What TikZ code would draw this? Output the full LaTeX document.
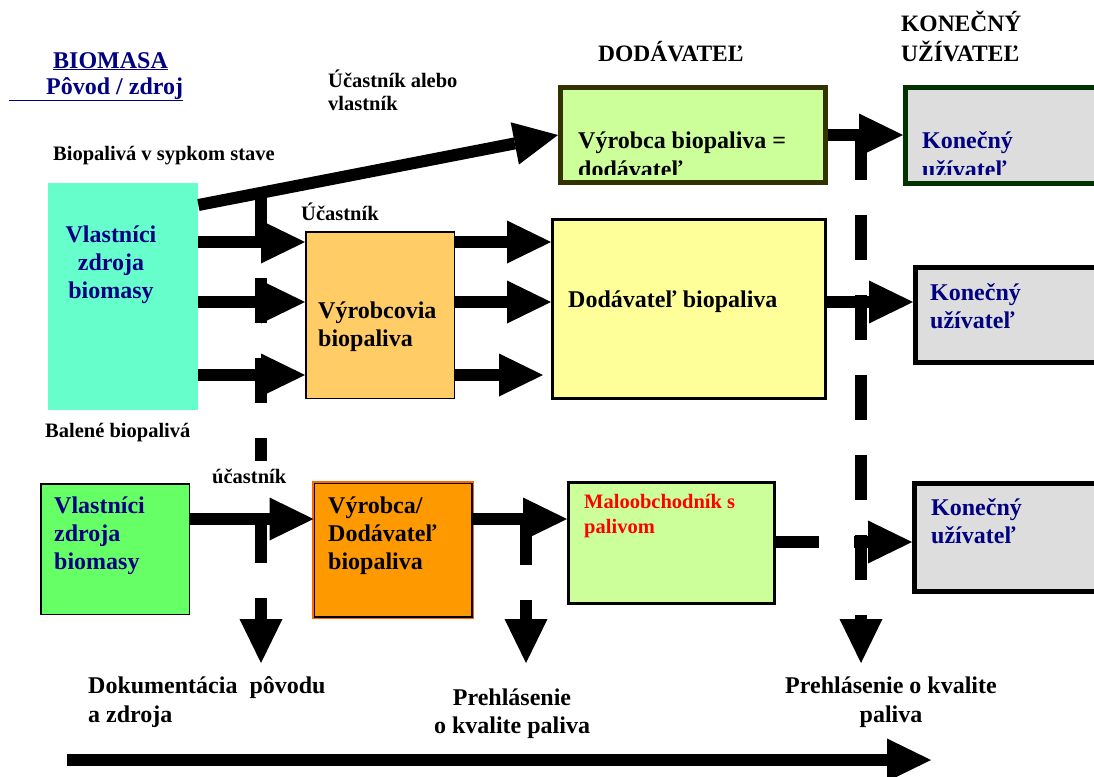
\documentclass[tikz,border=0pt]{standalone}
\usepackage{fontspec}
\setmainfont{Liberation Serif}
\usetikzlibrary{arrows.meta,calc}
\definecolor{ownercyan}{RGB}{102,255,204}
\definecolor{ownergreen}{RGB}{102,255,102}
\definecolor{makerorange}{RGB}{255,204,102}
\definecolor{retailorange}{RGB}{255,153,0}
\definecolor{edgeorange}{RGB}{255,102,0}
\definecolor{supplyyellow}{RGB}{255,255,153}
\definecolor{limefill}{RGB}{204,255,153}
\definecolor{usergray}{RGB}{221,221,221}
\definecolor{labelnavy}{RGB}{0,0,128}
\definecolor{oliveedge}{RGB}{51,51,0}
\definecolor{pineedge}{RGB}{0,51,0}
\newcommand{\bigfont}{\bfseries\fontsize{24}{28}\selectfont}
\newcommand{\smallfont}{\bfseries\fontsize{20.5}{23}\selectfont}
\newcommand{\headfont}{\bfseries\fontsize{23.5}{30}\selectfont}
\tikzset{
	block/.style={anchor=north west,inner sep=0pt},
	bigtext/.style={font=\bigfont,inner sep=0pt,anchor=base west,align=left},
	smalltext/.style={font=\smallfont,inner sep=0pt,anchor=base west,align=left},
	flowarrow/.style={line width=12pt,-{Triangle[length=44pt,width=43pt,line width=0pt]}},
	stagearrow/.style={flowarrow,dash pattern=on 45pt off 35pt}
}

\begin{document}
\begin{tikzpicture}[x=1pt,y=-1pt]
		\useasboundingbox (0,0) rectangle (1094,776);
		\node[block,fill=ownercyan,minimum width=150pt,minimum height=227pt] (owners) at (48,183) {};
		\node[block,draw,line width=1.5pt,fill=makerorange,minimum width=148.5pt,minimum height=166.5pt] (producers) at (305,231) {};
		\node[block,draw=oliveedge,line width=5pt,fill=limefill,minimum width=265pt,minimum height=95pt] (topmaker) at (558,85) {};
		\node[block,draw,line width=3pt,fill=supplyyellow,minimum width=273pt,minimum height=179pt] (supplier) at (551,218) {};
		\node[block,draw=pineedge,line width=5pt,fill=usergray,minimum width=202pt,minimum height=96pt] (enduser1) at (903,85) {};
		\node[block,draw,line width=5pt,fill=usergray,minimum width=192pt,minimum height=95pt] (enduser2) at (913,265) {};
		\node[block,draw,line width=1.5pt,fill=ownergreen,minimum width=148.5pt,minimum height=130.5pt] (greenowners) at (40,483) {};
		\node[block,draw,line width=1.5pt,fill=retailorange,preaction={draw=edgeorange,line width=4.5pt},minimum width=157.5pt,minimum height=133.5pt] (retailmaker) at (313.5,482.5) {};
		\node[block,draw,line width=3pt,fill=limefill,minimum width=206pt,minimum height=121pt] (retailer) at (567,481) {};
		\node[block,draw,line width=5pt,fill=usergray,minimum width=193pt,minimum height=108pt] (enduser3) at (912,481) {};

		\coordinate (originstart) at (261,198);
		\coordinate (originend) at (261,663);
		\coordinate (qualitystart) at (526,520);
		\coordinate (qualityend) at (526,663);
		\coordinate (finalstart) at (861,135);
		\coordinate (finalend) at (861,663);
		\coordinate (chainstart) at (67,760);
		\coordinate (chainend) at (931,760);

		\draw[stagearrow] (originstart) -- (originend);
		\draw[stagearrow] (qualitystart) -- (qualityend);
		\draw[stagearrow] (finalstart) -- (finalend);
		\draw[flowarrow] (chainstart) -- (chainend);

		\draw[flowarrow] ($(owners.north east)+(0,22)$) -- (topmaker.west);
		\draw[flowarrow] (owners.east |- 0,242) -- (producers.west |- 0,242);
		\draw[flowarrow] (owners.east |- 0,302) -- (producers.west |- 0,302);
		\draw[flowarrow] (owners.east |- 0,375) -- (producers.west |- 0,375);
		\draw[flowarrow] (producers.east |- 0,242) -- (supplier.west |- 0,242);
		\draw[flowarrow] (producers.east |- 0,302) -- (supplier.west |- 0,302);
		\draw[flowarrow,shorten >=8pt] (producers.east |- 0,375) -- (supplier.west |- 0,375);
		\draw[flowarrow] (topmaker.east) -- (enduser1.west |- topmaker.east);
		\draw[flowarrow] (supplier.east |- 0,302) -- (enduser2.west |- 0,302);
		\draw[flowarrow] (greenowners.east |- 0,519) -- (retailmaker.west |- 0,519);
		\draw[flowarrow] (retailmaker.east |- 0,519) -- (retailer.west |- 0,519);
		\draw[flowarrow,dash pattern=on 43pt off 35pt on 60pt] (retailer.east |- 0,542) -- (enduser3.west |- 0,542);

		\node[font=\bigfont,text=labelnavy,inner sep=0pt,anchor=base west] (biotitle) at (53,68) {\underline{BIOMASA}};
		\node[font=\bigfont,text=labelnavy,inner sep=0pt,anchor=base west] (biosource) at (9,94) {\underline{\hspace*{37pt}Pôvod / zdroj}};
		\node[smalltext] (partyowner) at (328,110) {Účastník alebo\\vlastník};
		\node[font=\headfont,inner sep=0pt,anchor=base west] (supplyhead) at (598,62) {DODÁVATEĽ};
		\node[font=\headfont,inner sep=0pt,anchor=base west,align=left] (userhead) at (901,62) {KONEČNÝ\\UŽÍVATEĽ};
		\node[smalltext] (bulklabel) at (53,160) {Biopalivá v sypkom stave};
		\node[bigtext,align=center,anchor=base,text=labelnavy] (ownerstext) at (111,298) {Vlastníci\\zdroja\\biomasy};
		\node[smalltext] (partylabel) at (301,220) {Účastník};
		\node[bigtext] (producerstext) at (318,346) {Výrobcovia\\biopaliva};
		\node[bigtext] (suppliertext) at (568,307) {Dodávateľ biopaliva};
		\begin{scope}
			\clip (topmaker.north west) rectangle (enduser1.north east |- 0,174);
			\node[bigtext,font=\bfseries\fontsize{24}{29}\selectfont] (topmakertext) at (578,177) {Výrobca biopaliva =\\dodávateľ};
			\node[bigtext,font=\bfseries\fontsize{24}{29}\selectfont,text=labelnavy] (enduser1text) at (922,177) {Konečný\\užívateľ};
		\end{scope}
		\node[bigtext,text=labelnavy] (enduser2text) at (930,328) {Konečný\\užívateľ};
		\node[smalltext] (packedlabel) at (45,437) {Balené biopalivá};
		\node[smalltext,fill=white,inner ysep=8pt] (partylabel2) at (212,483) {účastník};
		\node[bigtext,text=labelnavy] (greenownerstext) at (54,569) {Vlastníci\\zdroja\\biomasy};
		\node[bigtext] (retailmakertext) at (328,569) {Výrobca/\\Dodávateľ\\biopaliva};
		\node[smalltext,font=\bfseries\fontsize{20.5}{25}\selectfont,text=red] (retailertext) at (584,533) {Maloobchodník s\\palivom};
		\node[bigtext,text=labelnavy] (enduser3text) at (931,543) {Konečný\\užívateľ};
		\node[bigtext,font=\bfseries\fontsize{24}{29}\selectfont] (origindoc) at (88,722) {Dokumentácia\ \ pôvodu\\a zdroja};
		\node[bigtext,align=center,anchor=base] (qualitydoc) at (512,733) {Prehlásenie\\o kvalite paliva};
		\node[bigtext,font=\bfseries\fontsize{24}{29}\selectfont,align=center,anchor=base] (finaldoc) at (891,722) {Prehlásenie o kvalite\\paliva};
\end{tikzpicture}
\end{document}
